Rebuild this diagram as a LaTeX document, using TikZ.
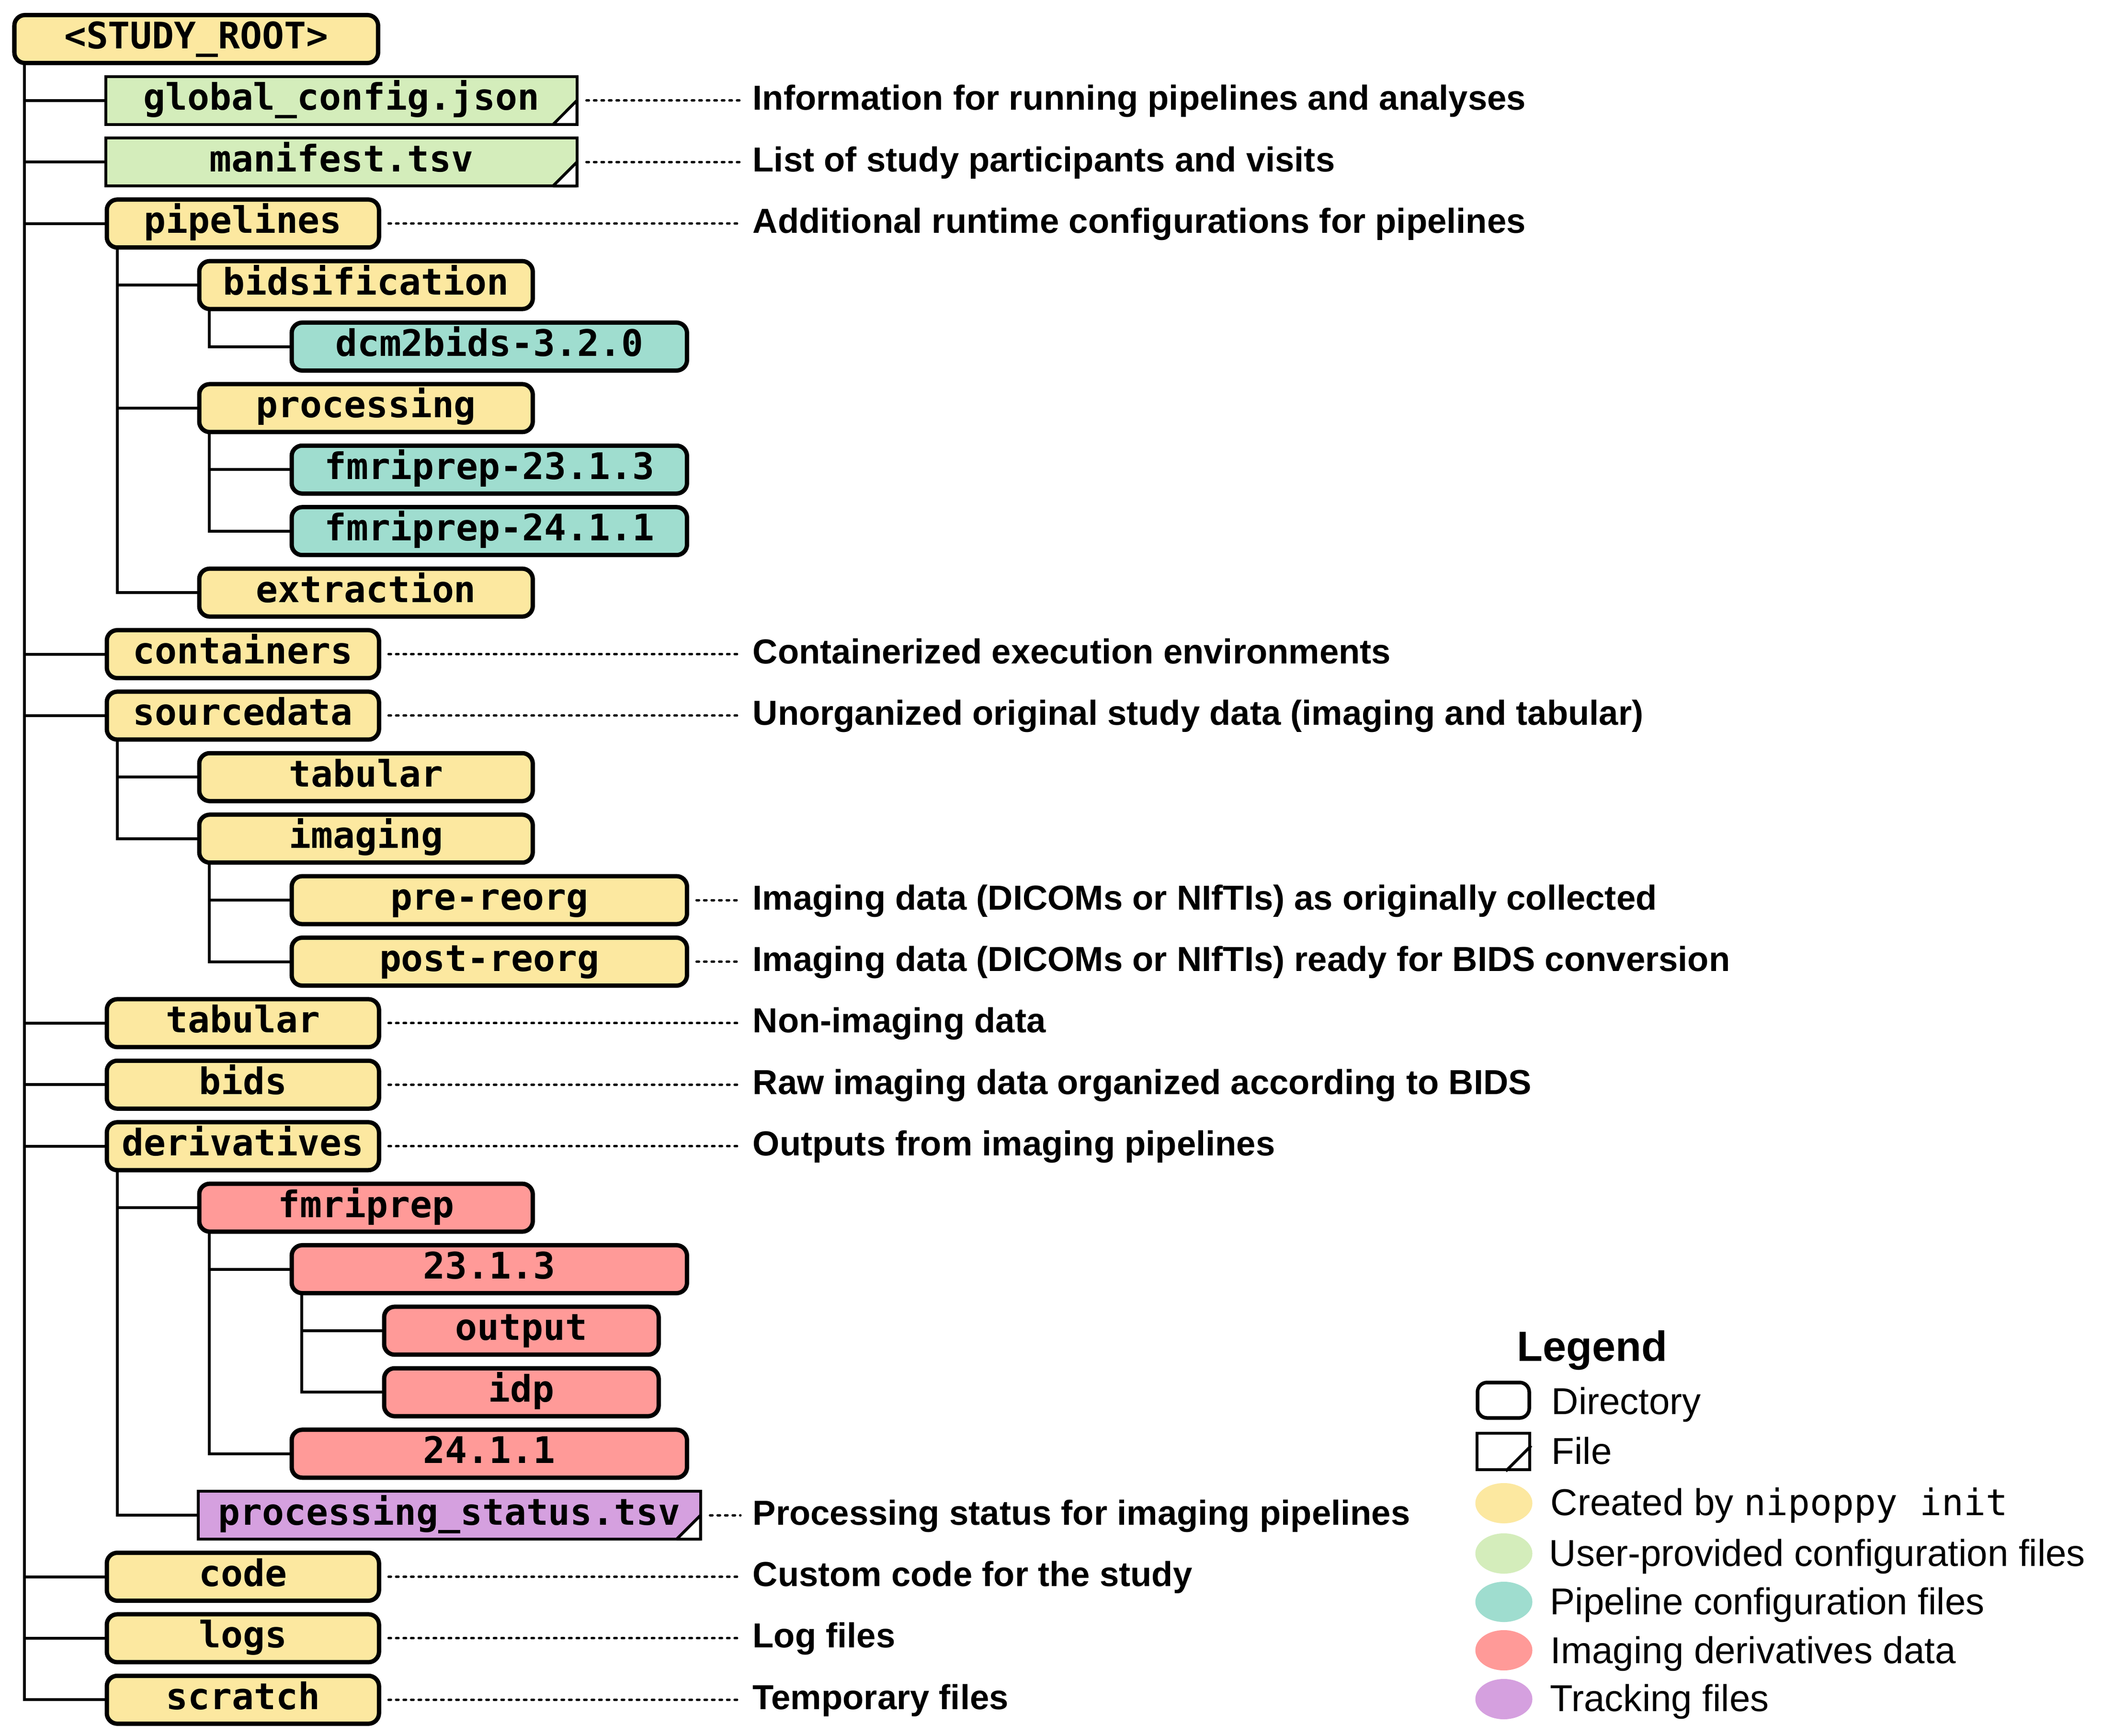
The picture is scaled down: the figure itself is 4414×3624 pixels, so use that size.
\documentclass[tikz,border=0pt]{standalone}
\usepackage{fontspec}
\setmainfont{Liberation Sans}
\newfontfamily\monof{DejaVu Sans Mono}
\usetikzlibrary{calc,shapes.geometric}
\definecolor{cy}{HTML}{FCE8A0}
\definecolor{cg}{HTML}{D4EDBB}
\definecolor{ct}{HTML}{9FDDCF}
\definecolor{cr}{HTML}{FF9A98}
\definecolor{cp}{HTML}{D5A0DF}
\tikzset{
  box/.style={anchor=west, minimum height=1.0cm, inner sep=0pt, outer sep=0pt,
    text height=0.56cm, text depth=0.16cm, font=\monof\bfseries\fontsize{21.7}{24}\selectfont},
  dir/.style={box, draw=black, line width=0.09cm, rounded corners=0.22cm},
  file/.style={box, draw=black, line width=0.06cm},
  Lzero/.style={dir, minimum width=7.59cm},
  Lone/.style={dir, minimum width=5.68cm},
  Lonef/.style={file, minimum width=9.83cm},
  Ltwo/.style={dir, minimum width=6.96cm},
  Ltwof/.style={file, minimum width=10.48cm},
  Lthree/.style={dir, minimum width=8.25cm},
  Lfour/.style={dir, minimum width=5.73cm},
  conn/.style={line width=0.06cm},
  dots/.style={line width=0.05cm, line cap=round, dash pattern=on 0.05cm off 0.107cm},
  desc/.style={anchor=west, inner sep=0pt, text height=0.52cm, text depth=0pt,
    font=\bfseries\fontsize{20.6}{24}\selectfont},
  legtext/.style={anchor=base west, inner sep=0pt, font=\fontsize{22.2}{26}\selectfont},
  legdot/.style={ellipse, minimum width=1.19cm, minimum height=0.84cm, inner sep=0pt},
  corner/.style={fill=white, draw=black, line width=0.06cm, line join=bevel},
}
\begin{document}
\begin{tikzpicture}[x=0.01cm, y=-0.01cm]
\useasboundingbox (0,0) rectangle (4414,3624);
\fill[white] (0,0) rectangle (4414,3624);

% ---- tree nodes ----
\node[Lzero, fill=cy] (root) at (30,81.5) {<STUDY\_ROOT>};
\node[Lonef, fill=cg] (global) at (221,209.9) {global\_config.json};
\node[Lonef, fill=cg] (manifest) at (221,338.3) {manifest.tsv};
\node[Lone, fill=cy] (pipelines) at (223,466.7) {pipelines};
\node[Ltwo, fill=cy] (bidsification) at (416,595.1) {bidsification};
\node[Lthree, fill=ct] (dcm2bids) at (609,723.5) {dcm2bids-3.2.0};
\node[Ltwo, fill=cy] (processing) at (416,851.9) {processing};
\node[Lthree, fill=ct] (fmriprepA) at (609,980.3) {fmriprep-23.1.3};
\node[Lthree, fill=ct] (fmriprepB) at (609,1108.7) {fmriprep-24.1.1};
\node[Ltwo, fill=cy] (extraction) at (416,1237.1) {extraction};
\node[Lone, fill=cy] (containers) at (223,1365.5) {containers};
\node[Lone, fill=cy] (sourcedata) at (223,1493.9) {sourcedata};
\node[Ltwo, fill=cy] (tabularS) at (416,1622.3) {tabular};
\node[Ltwo, fill=cy] (imaging) at (416,1750.7) {imaging};
\node[Lthree, fill=cy] (prereorg) at (609,1879.1) {pre-reorg};
\node[Lthree, fill=cy] (postreorg) at (609,2007.5) {post-reorg};
\node[Lone, fill=cy] (tabular) at (223,2135.9) {tabular};
\node[Lone, fill=cy] (bids) at (223,2264.3) {bids};
\node[Lone, fill=cy] (derivatives) at (223,2392.7) {derivatives};
\node[Ltwo, fill=cr] (fmriprepD) at (416,2521.1) {fmriprep};
\node[Lthree, fill=cr] (vA) at (609,2649.5) {23.1.3};
\node[Lfour, fill=cr] (output) at (802,2777.9) {output};
\node[Lfour, fill=cr] (idp) at (802,2906.3) {idp};
\node[Lthree, fill=cr] (vB) at (609,3034.7) {24.1.1};
\node[Ltwof, fill=cp] (pstatus) at (414,3163.1) {processing\_status.tsv};
\node[Lone, fill=cy] (code) at (223,3291.5) {code};
\node[Lone, fill=cy] (logs) at (223,3419.9) {logs};
\node[Lone, fill=cy] (scratch) at (223,3548.3) {scratch};

% file corners
\foreach \f in {global,manifest,pstatus}{
  \path[corner] (\f.east) -- (\f.south east) -- ($(\f.south east)+(-50,0)$) -- cycle;
}

% ---- connectors ----
\coordinate (xa) at (51,0);
\coordinate (xb) at (245,0);
\coordinate (xc) at (437,0);
\coordinate (xd) at (630,0);
\draw[conn] (root.south -| xa) |- (scratch.west);
\foreach \n in {global,manifest,pipelines,containers,sourcedata,tabular,bids,derivatives,code,logs}
  \draw[conn] (\n.west) -- (\n.west -| xa);
\draw[conn] (pipelines.south -| xb) |- (extraction.west);
\foreach \n in {bidsification,processing} \draw[conn] (\n.west) -- (\n.west -| xb);
\draw[conn] (bidsification.south -| xc) |- (dcm2bids.west);
\draw[conn] (processing.south -| xc) |- (fmriprepB.west);
\draw[conn] (fmriprepA.west) -- (fmriprepA.west -| xc);
\draw[conn] (sourcedata.south -| xb) |- (imaging.west);
\draw[conn] (tabularS.west) -- (tabularS.west -| xb);
\draw[conn] (imaging.south -| xc) |- (postreorg.west);
\draw[conn] (prereorg.west) -- (prereorg.west -| xc);
\draw[conn] (derivatives.south -| xb) |- (pstatus.west);
\draw[conn] (fmriprepD.west) -- (fmriprepD.west -| xb);
\draw[conn] (fmriprepD.south -| xc) |- (vB.west);
\draw[conn] (vA.west) -- (vA.west -| xc);
\draw[conn] (vA.south -| xd) |- (idp.west);
\draw[conn] (output.west) -- (output.west -| xd);

% ---- descriptions ----
\foreach \n/\t in {
  global/Information for running pipelines and analyses,
  manifest/List of study participants and visits,
  pipelines/Additional runtime configurations for pipelines,
  containers/Containerized execution environments,
  sourcedata/Unorganized original study data (imaging and tabular),
  prereorg/Imaging data (DICOMs or NIfTIs) as originally collected,
  postreorg/Imaging data (DICOMs or NIfTIs) ready for BIDS conversion,
  tabular/Non-imaging data,
  bids/Raw imaging data organized according to BIDS,
  derivatives/Outputs from imaging pipelines,
  pstatus/Processing status for imaging pipelines,
  code/Custom code for the study,
  logs/Log files,
  scratch/Temporary files}{
  \node[desc] (d\n) at ($(\n.east -| 1571,0)+(0,-6)$) {\t};
  \draw[dots] ($(\n.east)+(20,0)$) -- ($(d\n.west)+(-25,6)$);
}

% ---- legend ----
\node[anchor=base west, inner sep=0pt, font=\bfseries\fontsize{25.1}{28}\selectfont] (legend) at (3167,2841) {Legend};
\node[draw=black, line width=0.075cm, rounded corners=0.2cm, minimum width=1.08cm, minimum height=0.74cm, inner sep=0pt] (ldir) at (3139,2923) {};
\node[legtext] (tdir) at (3239,2952) {Directory};
\node[draw=black, line width=0.06cm, minimum width=1.1cm, minimum height=0.76cm, inner sep=0pt] (lfile) at (3139,3030) {};
\draw[line width=0.06cm] ($(lfile.east)+(0,-12)$) -- ($(lfile.south east)+(-53,0)$);
\node[legtext] (tfile) at (3239,3056) {File};
\node[legdot, fill=cy] (ly) at (3140,3138) {};
\node[legtext] (tly) at (3237,3163) {Created by {\monof\fontsize{21.7}{26}\selectfont nipoppy init}};
\node[legdot, fill=cg] (lg) at (3140,3243) {};
\node[legtext] (tlg) at (3234,3269) {User-provided configuration files};
\node[legdot, fill=ct] (lt) at (3140,3344) {};
\node[legtext] (tlt) at (3236,3370) {Pipeline configuration files};
\node[legdot, fill=cr] (lr) at (3140,3445) {};
\node[legtext] (tlr) at (3237,3472) {Imaging derivatives data};
\node[legdot, fill=cp] (lp) at (3140,3547) {};
\node[legtext] (tlp) at (3236,3572) {Tracking files};
\end{tikzpicture}
\end{document}
